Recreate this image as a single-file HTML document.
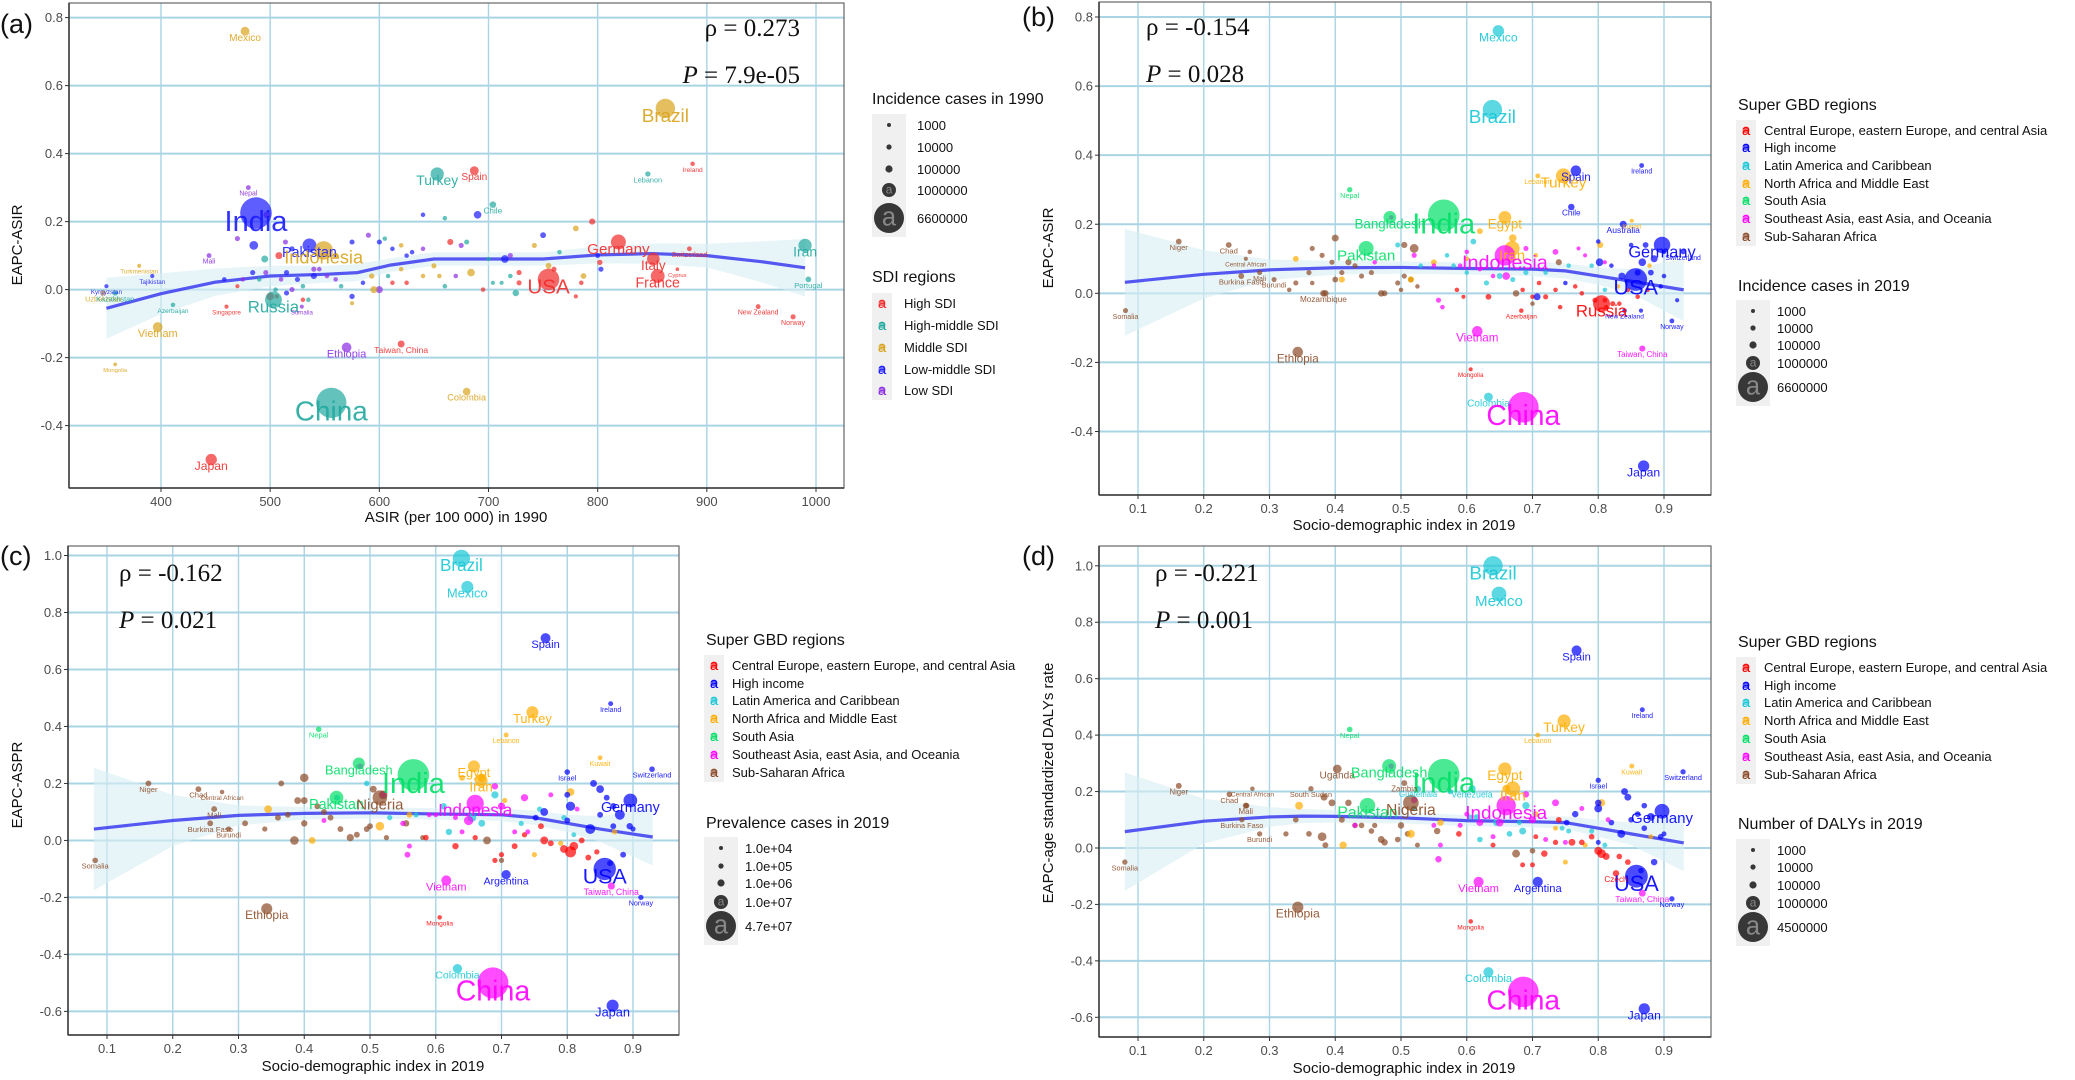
<!DOCTYPE html>
<html><head><meta charset="utf-8">
<style>
html,body{margin:0;padding:0;background:#fff;}
svg{display:block;font-family:"Liberation Sans",sans-serif;}
</style></head>
<body>
<svg id="fig" width="2075" height="1080" viewBox="0 0 2075 1080" xmlns="http://www.w3.org/2000/svg"></svg>
<script>
// ---------- DATA ----------
const sdiGroups = ["High SDI","High-middle SDI","Middle SDI","Low-middle SDI","Low SDI"];
const sdiColors = {H:"#f22a2a",HM:"#21a99f",M:"#d9a21b",LM:"#1a1aff",L:"#8a2be2"};
const gbdGroups = ["Central Europe, eastern Europe, and central Asia","High income","Latin America and Caribbean","North Africa and Middle East","South Asia","Southeast Asia, east Asia, and Oceania","Sub-Saharan Africa"];
const gbdColors = {CE:"#ff0000",HI:"#0000ff",LA:"#16c8d6",NA:"#ffad00",SA:"#00e066",SE:"#ff00ff",SS:"#8b4a26"};

// panel (a): [label, ASIR 1990, EAPC, incidence cases, SDI]
const aLabeled = [
["Mexico",477,0.76,3e5,"M"],["Brazil",862,0.533,2.2e6,"M"],["India",487,0.225,6.6e6,"LM"],["Turkey",653,0.34,9e5,"HM"],
["Spain",687,0.35,3e5,"H"],["Ireland",887,0.37,3e4,"H"],["Lebanon",846,0.34,6e4,"HM"],["Nepal",480,0.30,4e4,"L"],
["Chile",704,0.25,1.2e5,"HM"],["Iran",990,0.13,9e5,"HM"],["Germany",819,0.14,1.2e6,"H"],["Pakistan",536,0.13,1e6,"LM"],
["Indonesia",549,0.115,2e6,"M"],["Mali",444,0.10,4e4,"L"],["Turkmenistan",380,0.07,2e4,"M"],["Tajikistan",392,0.04,2e4,"LM"],
["Kyrgyzstan",350,0.01,2e4,"LM"],["Uzbekistan",347,-0.01,6e4,"M"],["Kazakhstan",358,-0.01,6e4,"HM"],["Azerbaijan",411,-0.045,3e4,"HM"],
["Singapore",460,-0.05,2e4,"H"],["Russia",503,-0.03,1.6e6,"HM"],["Somalia",529,-0.05,1.5e4,"L"],["Italy",851,0.09,8e5,"H"],
["France",855,0.04,1e6,"H"],["USA",755,0.03,2.8e6,"H"],["Switzerland",884,0.12,4e4,"H"],["Portugal",993,0.03,8e4,"HM"],
["Cyprus",873,0.06,8e3,"H"],["New Zealand",947,-0.05,4e4,"H"],["Norway",979,-0.08,5e4,"H"],["Vietnam",397,-0.11,4e5,"M"],
["Ethiopia",570,-0.17,4e5,"L"],["Taiwan, China",620,-0.16,1.5e5,"H"],["Mongolia",358,-0.22,1e4,"M"],["Colombia",680,-0.30,2e5,"M"],
["China",556,-0.333,6e6,"HM"],["Japan",446,-0.50,6e5,"H"]];
const aOthers = [
[485,0.13,3e5,"LM"],[497,0.22,1.5e5,"L"],[470,0.15,5e4,"L"],[495,0.09,1.5e5,"HM"],[508,0.10,1.5e5,"H"],[514,0.14,5e4,"L"],
[520,0.12,5e4,"LM"],[540,0.06,5e4,"L"],[560,0.10,8e4,"M"],[575,0.14,5e4,"LM"],[590,0.16,5e4,"L"],[600,0.14,5e4,"LM"],
[605,0.15,3e4,"HM"],[612,0.12,3e4,"LM"],[620,0.13,3e4,"M"],[625,0.10,3e4,"LM"],[630,0.11,3e4,"LM"],[640,0.12,3e4,"L"],
[640,0.22,3e4,"LM"],[660,0.21,3e4,"HM"],[665,0.14,1e5,"H"],[675,0.13,5e4,"L"],[680,0.14,5e4,"HM"],[690,0.22,2e5,"LM"],
[700,0.09,2e4,"HM"],[715,0.09,2e5,"LM"],[720,0.10,5e4,"L"],[750,0.16,8e4,"LM"],[742,0.13,5e4,"M"],[765,0.11,3e4,"HM"],
[780,0.18,8e4,"M"],[795,0.20,1e5,"H"],[800,0.10,4e4,"LM"],[802,0.08,6e4,"H"],[803,0.06,5e4,"LM"],[787,0.04,8e4,"M"],
[785,0.02,3e4,"H"],[780,-0.02,2e4,"H"],[760,0.06,5e4,"H"],[755,0.07,8e4,"M"],[728,0.05,5e4,"H"],[728,0.02,5e4,"H"],
[725,-0.01,1.2e5,"HM"],[720,0.04,3e4,"HM"],[712,0.02,2e4,"HM"],[704,0.02,2e4,"HM"],[695,0,3e4,"H"],[684,0.05,2e5,"M"],
[670,0.04,3e4,"L"],[660,0.01,3e4,"HM"],[655,0.04,3e4,"M"],[650,0.07,5e4,"M"],[640,0.04,3e4,"M"],[625,0.02,3e4,"H"],
[620,0.06,3e4,"M"],[612,0.02,3e4,"H"],[608,0.04,3e4,"HM"],[600,0,1.5e5,"L"],[595,0,1.5e5,"M"],[593,0.04,6e4,"M"],
[585,0.02,3e4,"LM"],[575,-0.02,6e4,"LM"],[575,-0.04,2e4,"M"],[565,0.01,3e4,"HM"],[560,0.03,3e4,"L"],[552,0.04,3e4,"L"],
[545,0.06,3e4,"L"],[540,0.04,1e5,"LM"],[530,0.01,3e4,"HM"],[525,0.03,5e4,"LM"],[520,0,5e4,"L"],[515,0.05,5e4,"LM"],
[510,0.03,3e4,"L"],[505,0,3e4,"HM"],[500,-0.02,2e5,"H"],[496,0.05,5e4,"L"],[490,0.03,3e4,"HM"],[484,0.05,5e4,"LM"],
[475,0.03,3e4,"L"],[470,0.01,2e4,"H"],[458,0.03,3e4,"LM"],[530,-0.03,3e4,"H"],[506,-0.02,3e4,"H"],[515,-0.01,5e4,"LM"],[535,-0.03,3e4,"HM"]];
const aSmoothX = [350,400,450,500,550,580,610,650,700,750,800,850,900,950,990];
const aSmoothY = [-0.055,-0.012,0.022,0.04,0.045,0.05,0.072,0.09,0.09,0.09,0.102,0.106,0.1,0.082,0.064];
const aSmoothSE = [0.09,0.06,0.04,0.03,0.025,0.025,0.02,0.02,0.02,0.02,0.025,0.03,0.035,0.06,0.085];

// panel (b): [label, SDI 2019, EAPC-ASIR, incidence 2019, region]
const bLabeled = [
["Mexico",0.648,0.76,6e5,"LA"],["Brazil",0.639,0.532,2.2e6,"LA"],["Spain",0.766,0.355,5e5,"HI"],["Turkey",0.747,0.34,1.2e6,"NA"],
["Lebanon",0.708,0.34,4e4,"NA"],["Ireland",0.866,0.37,4e4,"HI"],["Nepal",0.422,0.30,6e4,"SA"],["Chile",0.759,0.25,1.2e5,"HI"],
["Bangladesh",0.483,0.22,8e5,"SA"],["India",0.565,0.226,6.6e6,"SA"],["Egypt",0.658,0.22,8e5,"NA"],["Australia",0.838,0.20,1.5e5,"HI"],
["Kuwait",0.851,0.21,2e4,"NA"],["Chad",0.238,0.14,8e4,"SS"],["Niger",0.162,0.15,8e4,"SS"],["Central African",0.264,0.10,2e4,"SS"],
["Mali",0.285,0.06,5e4,"SS"],["Pakistan",0.447,0.13,1.2e6,"SA"],["Iran",0.669,0.13,1.2e6,"NA"],["Germany",0.897,0.14,1.5e6,"HI"],
["Switzerland",0.929,0.12,4e4,"HI"],["Indonesia",0.658,0.11,2.5e6,"SE"],["Burkina Faso",0.257,0.05,8e4,"SS"],["Burundi",0.307,0.04,5e4,"SS"],
["Mozambique",0.382,0.0,1.2e5,"SS"],["USA",0.857,0.04,3.2e6,"HI"],["Somalia",0.081,-0.05,5e4,"SS"],["Russia",0.805,-0.03,1.6e6,"CE"],
["Azerbaijan",0.683,-0.05,3e4,"CE"],["New Zealand",0.84,-0.05,3e4,"HI"],["Norway",0.912,-0.08,4e4,"HI"],["Vietnam",0.616,-0.11,5e5,"SE"],
["Taiwan, China",0.867,-0.16,1e5,"SE"],["Ethiopia",0.343,-0.17,5e5,"SS"],["Mongolia",0.606,-0.22,2e4,"CE"],["Colombia",0.633,-0.30,3e5,"LA"],
["China",0.686,-0.33,6.2e6,"SE"],["Japan",0.869,-0.50,6e5,"HI"]];
const bOthers = [
[0.40,0.16,1.5e5,"SS"],[0.52,0.13,3e5,"SS"],[0.505,0.14,1e5,"SS"],[0.365,0.13,5e4,"SS"],[0.38,0.11,5e4,"SS"],[0.395,0.09,5e4,"SS"],
[0.42,0.09,1e5,"SS"],[0.43,0.08,5e4,"SS"],[0.36,0.06,5e4,"SS"],[0.34,0.03,5e4,"SS"],[0.365,0.03,3e4,"SS"],[0.40,0.04,8e4,"SS"],
[0.44,0.05,5e4,"SS"],[0.455,0.06,5e4,"SS"],[0.47,0,1.2e5,"SS"],[0.475,0,8e4,"SS"],[0.495,0.03,5e4,"SS"],[0.505,0.05,5e4,"SS"],
[0.515,0.04,8e4,"SS"],[0.525,0.02,3e4,"SS"],[0.50,0.01,3e4,"SS"],[0.385,0,1.2e5,"SS"],[0.675,0,1.2e5,"SS"],[0.70,-0.03,3e4,"SS"],
[0.41,0.06,5e4,"SS"],[0.74,0.09,1e5,"SS"],[0.33,0.01,3e4,"SS"],[0.27,0.12,3e4,"SS"],
[0.495,0.14,5e4,"LA"],[0.61,0.15,8e4,"LA"],[0.57,0.11,3e4,"LA"],[0.53,0.08,3e4,"LA"],[0.63,0.03,5e4,"LA"],[0.65,0.05,8e4,"LA"],
[0.67,0.04,5e4,"LA"],[0.69,0.06,5e4,"LA"],[0.72,0.06,3e4,"LA"],[0.755,0.08,3e4,"LA"],[0.79,0.08,3e4,"LA"],[0.81,0.01,3e4,"LA"],
[0.60,0.06,3e4,"LA"],[0.58,0.08,3e4,"LA"],
[0.67,0.16,2e5,"NA"],[0.62,0.18,8e4,"NA"],[0.34,0.10,8e4,"NA"],[0.41,0.04,1e5,"NA"],[0.55,0.09,8e4,"NA"],[0.60,0.10,3e4,"NA"],
[0.705,0.11,3e4,"NA"],[0.803,0.14,1e5,"NA"],[0.83,0.02,3e4,"NA"],[0.878,0.08,3e4,"NA"],[0.515,0.04,1e5,"NA"],
[0.585,0.01,3e4,"CE"],[0.595,-0.01,2e4,"CE"],[0.633,-0.01,8e4,"CE"],[0.685,0.01,3e4,"CE"],[0.70,-0.01,3e4,"CE"],[0.72,-0.01,5e4,"CE"],
[0.735,0.01,3e4,"CE"],[0.742,-0.04,3e4,"CE"],[0.765,0.02,3e4,"CE"],[0.775,0,3e4,"CE"],[0.795,-0.02,5e4,"CE"],[0.81,-0.02,3e4,"CE"],
[0.812,-0.04,3e4,"CE"],[0.822,-0.03,5e4,"CE"],[0.832,-0.03,3e4,"CE"],[0.845,0.01,3e4,"CE"],[0.86,-0.01,3e4,"CE"],[0.875,0.01,3e4,"CE"],[0.71,0.03,3e4,"CE"],
[0.80,0.15,3e4,"HI"],[0.82,0.08,3e4,"HI"],[0.85,0.14,3e4,"HI"],[0.872,0.14,8e4,"HI"],[0.885,0.10,1.5e5,"HI"],[0.90,0.12,3e4,"HI"],
[0.867,0.09,2e5,"HI"],[0.86,0.06,1e5,"HI"],[0.836,0.05,1.5e5,"HI"],[0.88,0.06,8e4,"HI"],[0.90,0.05,3e4,"HI"],[0.92,-0.02,2e4,"HI"],
[0.865,-0.05,2e4,"HI"],[0.75,0.03,3e4,"HI"],[0.707,-0.01,1.5e5,"HI"],[0.802,0.09,2e5,"HI"],[0.895,0.02,3e4,"HI"],
[0.485,0.22,3e4,"SE"],[0.52,0.11,5e4,"SE"],[0.46,0.09,3e4,"SE"],[0.55,0.08,3e4,"SE"],[0.59,0.08,3e4,"SE"],[0.62,0.07,3e4,"SE"],
[0.66,0.05,2e5,"SE"],[0.69,0.13,5e4,"SE"],[0.735,0.12,8e4,"SE"],[0.77,0.13,2e4,"SE"],[0.78,0.11,2e4,"SE"],[0.81,0.09,2e4,"SE"],
[0.557,-0.02,5e4,"SE"],[0.563,-0.04,3e4,"SE"],[0.60,0.12,3e4,"SE"],[0.64,0.05,3e4,"SE"]];
const bSmoothX = [0.08,0.2,0.3,0.4,0.5,0.6,0.7,0.75,0.8,0.85,0.93];
const bSmoothY = [0.032,0.055,0.068,0.074,0.075,0.072,0.07,0.065,0.05,0.035,0.01];
const bSmoothSE = [0.155,0.07,0.03,0.02,0.018,0.018,0.02,0.022,0.025,0.035,0.09];

// panel (c): [label, SDI, EAPC-ASPR, prevalence 2019, region]
const cLabeled = [
["Brazil",0.639,0.99,1.2e7,"LA"],["Mexico",0.648,0.89,5e6,"LA"],["Spain",0.767,0.71,3e6,"HI"],["Ireland",0.866,0.48,3e5,"HI"],
["Turkey",0.747,0.45,5e6,"NA"],["Nepal",0.422,0.39,5e5,"SA"],["Lebanon",0.707,0.37,3e5,"NA"],["Kuwait",0.85,0.29,3e5,"NA"],
["Switzerland",0.929,0.25,5e5,"HI"],["Israel",0.80,0.24,5e5,"HI"],["Egypt",0.658,0.26,5e6,"NA"],["Bangladesh",0.483,0.27,5e6,"SA"],
["India",0.566,0.23,4.7e7,"SA"],["Iran",0.669,0.21,6e6,"NA"],["Chad",0.239,0.18,6e5,"SS"],["Niger",0.163,0.20,6e5,"SS"],
["Central African",0.275,0.17,2e5,"SS"],["Mali",0.263,0.11,6e5,"SS"],["Pakistan",0.449,0.15,7e6,"SA"],["Nigeria",0.515,0.15,8e6,"SS"],
["Germany",0.896,0.14,7e6,"HI"],["Indonesia",0.66,0.13,1.2e7,"SE"],["Burkina Faso",0.257,0.06,6e5,"SS"],["Burundi",0.285,0.04,4e5,"SS"],
["Somalia",0.082,-0.07,5e5,"SS"],["USA",0.857,-0.10,2.2e7,"HI"],["Argentina",0.707,-0.12,2.5e6,"HI"],["Vietnam",0.616,-0.14,3e6,"SE"],
["Taiwan, China",0.867,-0.16,1.2e6,"SE"],["Norway",0.912,-0.20,4e5,"HI"],["Ethiopia",0.343,-0.24,4e6,"SS"],["Mongolia",0.606,-0.27,2e5,"CE"],
["Colombia",0.633,-0.45,2.5e6,"LA"],["China",0.687,-0.50,4.5e7,"SE"],["Japan",0.869,-0.58,5e6,"HI"]];
const cOthers = [
[0.40,0.22,2e6,"SS"],[0.52,0.16,2e6,"SS"],[0.505,0.18,1e6,"SS"],[0.365,0.20,6e5,"SS"],[0.39,0.14,1e6,"SS"],[0.40,0.14,1e6,"SS"],
[0.42,0.12,6e5,"SS"],[0.43,0.10,6e5,"SS"],[0.36,0.08,6e5,"SS"],[0.34,0.04,4e5,"SS"],[0.31,0.06,6e5,"SS"],[0.40,0.06,8e5,"SS"],
[0.44,0.08,6e5,"SS"],[0.455,0.04,6e5,"SS"],[0.47,0.01,1.2e6,"SS"],[0.48,0.02,6e5,"SS"],[0.495,0.04,6e5,"SS"],[0.50,0.05,6e5,"SS"],
[0.525,0.01,4e5,"SS"],[0.385,0,2e6,"SS"],[0.678,0,1.5e6,"SS"],[0.70,-0.07,4e5,"SS"],[0.375,0.09,6e5,"SS"],[0.555,0.06,8e5,"SS"],[0.58,0.01,3e5,"SS"],
[0.495,0.20,5e5,"LA"],[0.612,0.12,8e5,"LA"],[0.57,0.09,4e5,"LA"],[0.53,0.08,4e5,"LA"],[0.62,0.03,8e5,"LA"],[0.655,0.08,2e6,"LA"],
[0.67,0.06,1e6,"LA"],[0.69,0.16,1.2e6,"LA"],[0.73,0.06,4e5,"LA"],[0.758,0.11,4e5,"LA"],[0.795,0.08,4e5,"LA"],[0.81,0.02,3e5,"LA"],[0.45,0.15,6e5,"LA"],
[0.67,0.22,2e6,"NA"],[0.64,0.22,6e5,"NA"],[0.345,0.11,1.5e6,"NA"],[0.412,0.0,1e6,"NA"],[0.515,0.05,2e6,"NA"],[0.56,0.09,6e5,"NA"],
[0.705,0.14,4e5,"NA"],[0.805,0.17,1.5e6,"NA"],[0.79,-0.01,4e5,"NA"],[0.75,-0.05,4e5,"NA"],[0.872,0.03,4e5,"NA"],
[0.585,0.01,5e5,"CE"],[0.63,-0.02,8e5,"CE"],[0.66,0.01,4e5,"CE"],[0.70,-0.05,4e5,"CE"],[0.72,-0.02,6e5,"CE"],[0.735,0.02,4e5,"CE"],
[0.765,0,1.5e6,"CE"],[0.775,-0.01,6e5,"CE"],[0.795,-0.03,1.5e6,"CE"],[0.805,-0.04,4e6,"CE"],[0.81,-0.02,2e6,"CE"],[0.822,0,6e5,"CE"],
[0.832,-0.06,6e5,"CE"],[0.845,-0.04,4e5,"CE"],[0.76,0.05,6e5,"CE"],[0.69,-0.07,4e5,"CE"],
[0.80,0.16,6e5,"HI"],[0.84,0.20,1e6,"HI"],[0.85,0.18,1.5e6,"HI"],[0.86,0.15,6e5,"HI"],[0.87,0.12,8e5,"HI"],[0.88,0.09,3e6,"HI"],
[0.805,0.12,2.5e6,"HI"],[0.835,0.04,3e6,"HI"],[0.85,0.09,6e5,"HI"],[0.885,-0.05,6e5,"HI"],[0.90,0.04,4e5,"HI"],[0.865,-0.08,6e5,"HI"],
[0.752,0.08,6e5,"HI"],[0.765,0.10,1.5e6,"HI"],[0.80,0.07,6e5,"HI"],[0.895,0.05,8e5,"HI"],[0.87,0.05,6e5,"HI"],
[0.485,0.26,6e5,"SE"],[0.52,0.16,8e5,"SE"],[0.43,0.07,3e5,"SE"],[0.55,0.06,4e5,"SE"],[0.59,0.09,3e5,"SE"],[0.63,0.08,3e5,"SE"],
[0.65,0.07,2.5e6,"SE"],[0.69,0.19,8e5,"SE"],[0.735,0.15,1.2e6,"SE"],[0.775,0.16,3e5,"SE"],[0.70,0.12,1.2e6,"SE"],[0.815,0.11,3e5,"SE"],
[0.557,-0.05,6e5,"SE"],[0.56,-0.02,3e5,"SE"],[0.60,0.09,3e5,"SE"],[0.64,0.03,3e5,"SE"],[0.72,0.03,3e5,"SE"],[0.74,0.03,3e5,"SE"]];
const cSmoothX = [0.08,0.2,0.3,0.4,0.5,0.6,0.7,0.75,0.8,0.85,0.93];
const cSmoothY = [0.04,0.07,0.088,0.095,0.097,0.093,0.09,0.08,0.06,0.04,0.012];
const cSmoothSE = [0.215,0.09,0.035,0.022,0.02,0.02,0.022,0.025,0.03,0.045,0.1];

// panel (d): [label, SDI, EAPC DALYs rate, DALYs 2019, region]
const dLabeled = [
["Brazil",0.64,1.0,1.5e6,"LA"],["Mexico",0.649,0.90,8e5,"LA"],["Spain",0.767,0.70,3e5,"HI"],["Ireland",0.867,0.49,3e4,"HI"],
["Turkey",0.748,0.45,6e5,"NA"],["Nepal",0.422,0.42,5e4,"SA"],["Lebanon",0.708,0.40,3e4,"NA"],["Kuwait",0.851,0.29,3e4,"NA"],
["Switzerland",0.929,0.27,4e4,"HI"],["Uganda",0.403,0.28,2e5,"SS"],["Bangladesh",0.482,0.29,7e5,"SA"],["India",0.565,0.26,4.5e6,"SA"],
["Egypt",0.658,0.28,6e5,"NA"],["Niger",0.162,0.22,6e4,"SS"],["Chad",0.239,0.19,5e4,"SS"],["Central African",0.274,0.21,2e4,"SS"],
["South Sudan",0.363,0.21,4e4,"SS"],["Zambia",0.505,0.23,6e4,"SS"],["Guatemala",0.526,0.21,6e4,"LA"],["Venezuela",0.608,0.21,1.2e5,"LA"],
["Iran",0.67,0.21,8e5,"NA"],["Israel",0.80,0.24,4e4,"HI"],["Pakistan",0.449,0.15,9e5,"SA"],["Nigeria",0.515,0.16,9e5,"SS"],
["Indonesia",0.66,0.15,1.5e6,"SE"],["Germany",0.897,0.13,8e5,"HI"],["Mali",0.264,0.15,6e4,"SS"],["Burkina Faso",0.258,0.10,4e4,"SS"],
["Burundi",0.285,0.05,4e4,"SS"],["Somalia",0.08,-0.05,4e4,"SS"],["USA",0.858,-0.10,2.2e6,"HI"],["Czech",0.827,-0.09,8e4,"CE"],
["Vietnam",0.618,-0.12,3e5,"SE"],["Argentina",0.708,-0.12,3e5,"HI"],["Taiwan, China",0.867,-0.16,1e5,"SE"],["Norway",0.912,-0.18,4e4,"HI"],
["Ethiopia",0.343,-0.21,4e5,"SS"],["Mongolia",0.606,-0.26,2e4,"CE"],["Colombia",0.633,-0.44,3e5,"LA"],["China",0.686,-0.51,4.2e6,"SE"],["Japan",0.87,-0.57,4e5,"HI"]];
const dOthers = [
[0.383,0.18,1e5,"SS"],[0.395,0.16,1e5,"SS"],[0.42,0.16,8e4,"SS"],[0.265,0.15,5e4,"SS"],[0.34,0.10,5e4,"SS"],[0.36,0.05,5e4,"SS"],
[0.325,0.05,4e4,"SS"],[0.38,0.04,2e5,"SS"],[0.385,0.01,6e4,"SS"],[0.41,0.10,6e4,"SS"],[0.44,0.08,5e4,"SS"],[0.455,0.06,5e4,"SS"],
[0.47,0.03,1e5,"SS"],[0.475,0.02,8e4,"SS"],[0.495,0.03,5e4,"SS"],[0.51,0.05,5e4,"SS"],[0.525,0.01,3e4,"SS"],[0.50,0.08,8e4,"SS"],
[0.675,-0.02,1.5e5,"SS"],[0.70,-0.01,5e4,"SS"],[0.555,0.06,8e4,"SS"],[0.46,0.08,4e4,"SS"],[0.43,0.08,5e4,"SS"],
[0.52,0.14,5e4,"LA"],[0.575,0.20,5e4,"LA"],[0.605,0.11,3e4,"LA"],[0.62,0.03,5e4,"LA"],[0.645,0.09,8e4,"LA"],[0.665,0.05,5e4,"LA"],
[0.685,0.06,1e5,"LA"],[0.69,0.15,1.2e5,"LA"],[0.745,0.07,3e4,"LA"],[0.755,0.06,3e4,"LA"],[0.79,0.06,3e4,"LA"],[0.81,0.01,3e4,"LA"],
[0.615,0.11,5e4,"LA"],[0.68,0.09,3e4,"LA"],
[0.66,0.21,1.5e5,"NA"],[0.345,0.15,1.5e5,"NA"],[0.412,0.01,1.2e5,"NA"],[0.515,0.05,1.5e5,"NA"],[0.56,0.09,8e4,"NA"],
[0.705,0.12,5e4,"NA"],[0.805,0.16,1.2e5,"NA"],[0.78,0.01,3e4,"NA"],[0.75,-0.05,3e4,"NA"],[0.88,0.04,3e4,"NA"],[0.735,0.07,3e4,"NA"],
[0.588,0.05,5e4,"CE"],[0.64,0.01,3e4,"CE"],[0.685,-0.06,3e4,"CE"],[0.70,-0.06,3e4,"CE"],[0.718,-0.02,8e4,"CE"],[0.735,0.02,4e4,"CE"],
[0.76,0.02,1e5,"CE"],[0.775,0.02,5e4,"CE"],[0.79,0.04,5e4,"CE"],[0.80,-0.01,1.5e5,"CE"],[0.805,-0.02,2e5,"CE"],[0.812,-0.03,1e5,"CE"],
[0.832,-0.03,5e4,"CE"],[0.845,-0.05,5e4,"CE"],[0.74,0.10,5e4,"CE"],[0.705,0.04,3e4,"CE"],
[0.80,0.16,8e4,"HI"],[0.84,0.20,1e5,"HI"],[0.845,0.18,1e5,"HI"],[0.86,0.12,5e4,"HI"],[0.87,0.15,5e4,"HI"],[0.88,0.11,1.5e5,"HI"],
[0.80,0.14,1.5e5,"HI"],[0.835,0.05,1.5e5,"HI"],[0.85,0.10,5e4,"HI"],[0.885,-0.05,8e4,"HI"],[0.90,0.05,3e4,"HI"],[0.865,-0.08,5e4,"HI"],
[0.752,0.09,5e4,"HI"],[0.765,0.12,8e4,"HI"],[0.82,0.09,5e4,"HI"],[0.895,0.04,5e4,"HI"],[0.80,0.02,3e4,"HI"],[0.87,0.07,5e4,"HI"],
[0.485,0.29,5e4,"SE"],[0.52,0.17,8e4,"SE"],[0.43,0.08,3e4,"SE"],[0.55,0.08,3e4,"SE"],[0.59,0.08,3e4,"SE"],[0.62,0.09,1e5,"SE"],
[0.65,0.09,1.5e5,"SE"],[0.69,0.19,8e4,"SE"],[0.735,0.16,1e5,"SE"],[0.775,0.14,3e4,"SE"],[0.70,0.10,1.2e5,"SE"],[0.815,0.10,3e4,"SE"],
[0.557,-0.04,8e4,"SE"],[0.56,0.01,3e4,"SE"],[0.60,0.12,3e4,"SE"],[0.64,0.04,3e4,"SE"],[0.72,0.03,3e4,"SE"],[0.75,0.02,3e4,"SE"]];
const dSmoothX = [0.08,0.2,0.3,0.35,0.4,0.5,0.6,0.7,0.75,0.8,0.85,0.93];
const dSmoothY = [0.058,0.095,0.11,0.113,0.112,0.107,0.097,0.093,0.09,0.07,0.05,0.018];
const dSmoothSE = [0.21,0.08,0.035,0.025,0.022,0.02,0.02,0.02,0.022,0.03,0.04,0.1];

const aXTicks=[400,500,600,700,800,900,1000], aYTicks=[0.8,0.6,0.4,0.2,0.0,-0.2,-0.4];
const sdiTicks=[0.1,0.2,0.3,0.4,0.5,0.6,0.7,0.8,0.9];
const bYTicks=[0.8,0.6,0.4,0.2,0.0,-0.2,-0.4];
const cdYTicks=[1.0,0.8,0.6,0.4,0.2,0.0,-0.2,-0.4,-0.6];
const sizeMax = {a:6.6e6,b:6.6e6,c:4.7e7,d:4.5e6};

// ---------- RENDER ----------
const NS="http://www.w3.org/2000/svg";
const svg=document.getElementById('fig');
function el(tag,attrs,parent,text){const e=document.createElementNS(NS,tag);for(const k in attrs)e.setAttribute(k,attrs[k]);if(text!==undefined)e.textContent=text;(parent||svg).appendChild(e);return e;}

function panel(c){
  const g=el('g',{});
  
  
  const X=v=>c.px0+(v-c.x0)*(c.px1-c.px0)/(c.x1-c.x0);
  const Y=v=>c.py0+(v-c.y0)*(c.py1-c.py0)/(c.y1-c.y0);
  const rad=v=>1.3+14.5*Math.sqrt(v/c.smax);
  const [L,T,R,B]=c.box;
  el('rect',{x:L,y:T,width:R-L,height:B-T,fill:'#fff'},g);
  const grid=el('g',{stroke:'#a9d4e4','stroke-width':1.4},g);
  
  c.xt.forEach(v=>el('line',{x1:X(v),x2:X(v),y1:T,y2:B},grid));
  c.yt.forEach(v=>el('line',{x1:L,x2:R,y1:Y(v),y2:Y(v),'stroke-width':2},grid));
  let up=c.sx.map((v,i)=>X(v)+','+Y(c.sy[i]+c.se[i]));
  let lo=c.sx.map((v,i)=>X(v)+','+Y(c.sy[i]-c.se[i])).reverse();
  const rib=el('polygon',{points:up.concat(lo).join(' '),fill:'#d8eef3','fill-opacity':0.6},g);
  
  const ln=el('polyline',{points:c.sx.map((v,i)=>X(v)+','+Y(c.sy[i])).join(' '),fill:'none',stroke:'#3b3bf0','stroke-width':3.2,'stroke-opacity':0.85},g);
  
  const pts=el('g',{},g);
  
  c.others.forEach(p=>{
    const ci=el('circle',{cx:X(p[0]),cy:Y(p[1]),r:rad(p[2]),fill:c.colors[p[3]],'fill-opacity':0.7},pts);
    
    
  });
  c.labeled.forEach(p=>{
    const ci=el('circle',{cx:X(p[1]),cy:Y(p[2]),r:rad(p[3]),fill:c.colors[p[4]],'fill-opacity':0.7},pts);
    
    
  });
  c.labeled.forEach(p=>{
    const cx=X(p[1]),cy=Y(p[2]);
    const fs=5+24*Math.sqrt(p[3]/c.smax);
    const t=el('text',{x:cx,y:cy+5+fs*0.45,'font-size':fs.toFixed(1),'text-anchor':'middle',fill:c.colors[p[4]],'fill-opacity':0.9},pts,p[0]);
    
    
  });
  el('rect',{x:L,y:T,width:R-L,height:B-T,fill:'none',stroke:'#666','stroke-width':1.2},g);
  el('line',{x1:L,x2:L,y1:T,y2:B,stroke:'#333','stroke-width':1.5},g);
  el('line',{x1:L,x2:R,y1:B,y2:B,stroke:'#333','stroke-width':1.5},g);
  const tk=el('g',{'font-size':13,fill:'#4d4d4d'},g);
  
  c.xt.forEach(v=>{el('line',{x1:X(v),x2:X(v),y1:B,y2:B+4,stroke:'#333'},tk);el('text',{x:X(v),y:B+18,'text-anchor':'middle'},tk,c.xfmt(v));});
  c.yt.forEach(v=>{el('line',{x1:L-4,x2:L,y1:Y(v),y2:Y(v),stroke:'#333'},tk);el('text',{x:L-6,y:Y(v)+4.5,'text-anchor':'end'},tk,v.toFixed(1));});
  const xtl=el('text',{x:c.xtitle[1],y:c.xtitle[2],'font-size':15,'text-anchor':'middle',fill:'#111'},g,c.xtitle[0]);
  
  const ytl=el('text',{x:0,y:0,'font-size':15,'text-anchor':'middle',fill:'#111',transform:`translate(${c.ytitle[1]},${c.ytitle[2]}) rotate(-90)`},g,c.ytitle[0]);
  
  const rho=el('text',{x:c.stat[0],y:c.stat[1],'font-size':25,'font-family':'Liberation Serif, serif',fill:'#111','text-anchor':c.stat[4]},g,c.stat[2]);
  
  const pv=el('text',{x:c.stat[0],y:c.stat[1]+47,'font-size':25,'font-family':'Liberation Serif, serif',fill:'#111','text-anchor':c.stat[4]},g);
  
  el('tspan',{'font-style':'italic'},pv,'P');el('tspan',{},pv,' = '+c.stat[3]);
  const pl=el('text',{x:c.plab[0],y:c.plab[1],'font-size':27,fill:'#111'},g,c.plab[2]);
  
}

function sizeLegend(o){
  const g=el('g',{});
  
  el('text',{x:o.x,y:o.ty,'font-size':16,fill:'#111'},g,o.title);
  el('rect',{x:o.kx-17,y:o.ys[0]-11,width:34,height:o.ys[4]-o.ys[0]+30,fill:'#f0f0f0'},g);
  const rr=[2,2.6,3.6,7,15];
  o.ys.forEach((y,i)=>{
    el('circle',{cx:o.kx,cy:y,r:rr[i],fill:'#222','fill-opacity':0.9},g);
    if(i>=3) el('text',{x:o.kx,y:y+rr[i]*0.5,'font-size':rr[i]*1.7,'text-anchor':'middle',fill:'#888'},g,'a');
    el('text',{x:o.lx,y:y+5,'font-size':13,fill:'#111'},g,o.labels[i]);
  });
}
function colorLegend(o){
  const g=el('g',{});
  
  el('text',{x:o.x,y:o.ty,'font-size':16,fill:'#111'},g,o.title);
  el('rect',{x:o.kx-10,y:o.ys[0]-10,width:20,height:o.ys[o.ys.length-1]-o.ys[0]+20,fill:'#f0f0f0'},g);
  o.names.forEach((n,i)=>{
    const y=o.ys[i];
    el('circle',{cx:o.kx,cy:y,r:3.5,fill:o.cols[i],'fill-opacity':0.6},g);
    el('text',{x:o.kx,y:y+5,'font-size':15,'text-anchor':'middle',fill:o.cols[i]},g,'a');
    const t=el('text',{x:o.lx,y:y+5,'font-size':13,fill:'#111'},g,n);
    
  });
}

const sdiFmt=v=>v.toFixed(1);
panel({name:'panel-a',x0:400,x1:1000,px0:161,px1:816,y0:0.8,y1:-0.4,py0:17.6,py1:425.6,box:[69,3,844,488],
  xt:aXTicks,yt:aYTicks,xfmt:v=>String(v),others:aOthers,labeled:aLabeled,colors:sdiColors,smax:sizeMax.a,
  sx:aSmoothX,sy:aSmoothY,se:aSmoothSE,xtitle:['ASIR (per 100 000) in 1990',456,522],ytitle:['EAPC-ASIR',22,245],
  stat:[800,36,'\u03C1 = 0.273','7.9e-05','end'],plab:[0,33,'(a)']});
panel({name:'panel-b',x0:0.1,x1:0.9,px0:1138,px1:1664,y0:0.8,y1:-0.4,py0:17,py1:431.5,box:[1099,2,1711,495],
  xt:sdiTicks,yt:bYTicks,xfmt:sdiFmt,others:bOthers,labeled:bLabeled,colors:gbdColors,smax:sizeMax.b,
  sx:bSmoothX,sy:bSmoothY,se:bSmoothSE,xtitle:['Socio-demographic index in 2019',1404,530],ytitle:['EAPC-ASIR',1053,248],
  stat:[1146,35,'\u03C1 = -0.154','0.028','start'],plab:[1022,26,'(b)']});
panel({name:'panel-c',x0:0.1,x1:0.9,px0:107,px1:633,y0:1.0,y1:-0.6,py0:555.5,py1:1011.4,box:[68,546,679,1035],
  xt:sdiTicks,yt:cdYTicks,xfmt:sdiFmt,others:cOthers,labeled:cLabeled,colors:gbdColors,smax:sizeMax.c,
  sx:cSmoothX,sy:cSmoothY,se:cSmoothSE,xtitle:['Socio-demographic index in 2019',373,1071],ytitle:['EAPC-ASPR',22,785],
  stat:[119,581,'\u03C1 = -0.162','0.021','start'],plab:[0,565,'(c)']});
panel({name:'panel-d',x0:0.1,x1:0.9,px0:1138,px1:1664,y0:1.0,y1:-0.6,py0:565.8,py1:1017.3,box:[1099,546,1711,1037],
  xt:sdiTicks,yt:cdYTicks,xfmt:sdiFmt,others:dOthers,labeled:dLabeled,colors:gbdColors,smax:sizeMax.d,
  sx:dSmoothX,sy:dSmoothY,se:dSmoothSE,xtitle:['Socio-demographic index in 2019',1404,1073],ytitle:['EAPC-age standardized DALYs rate',1053,783],
  stat:[1155,581,'\u03C1 = -0.221','0.001','start'],plab:[1022,565,'(d)']});

const gbdCols=["CE","HI","LA","NA","SA","SE","SS"].map(k=>gbdColors[k]);
sizeLegend({x:872,ty:104,title:'Incidence cases in 1990',kx:889,lx:917,ys:[125,147,169,190,218],labels:['1000','10000','100000','1000000','6600000']});
colorLegend({x:872,ty:282,title:'SDI regions',kx:882,lx:904,ys:[303,325,347,369,390],names:sdiGroups,cols:["H","HM","M","LM","L"].map(k=>sdiColors[k])});
colorLegend({x:1738,ty:110,title:'Super GBD regions',kx:1746,lx:1764,ys:[130,147,165,183,200,218,236],names:gbdGroups,cols:gbdCols});
sizeLegend({x:1738,ty:291,title:'Incidence cases in 2019',kx:1753,lx:1777,ys:[311,328,345,363,387],labels:['1000','10000','100000','1000000','6600000']});
colorLegend({x:706,ty:645,title:'Super GBD regions',kx:714,lx:732,ys:[665,683,700,718,736,754,772],names:gbdGroups,cols:gbdCols});
sizeLegend({x:706,ty:828,title:'Prevalence cases in 2019',kx:721,lx:745,ys:[848,866,883,902,926],labels:['1.0e+04','1.0e+05','1.0e+06','1.0e+07','4.7e+07']});
colorLegend({x:1738,ty:647,title:'Super GBD regions',kx:1746,lx:1764,ys:[667,685,702,720,738,756,774],names:gbdGroups,cols:gbdCols});
sizeLegend({x:1738,ty:829,title:'Number of DALYs in 2019',kx:1753,lx:1777,ys:[850,867,885,903,927],labels:['1000','10000','100000','1000000','4500000']});
</script>
</body></html>
